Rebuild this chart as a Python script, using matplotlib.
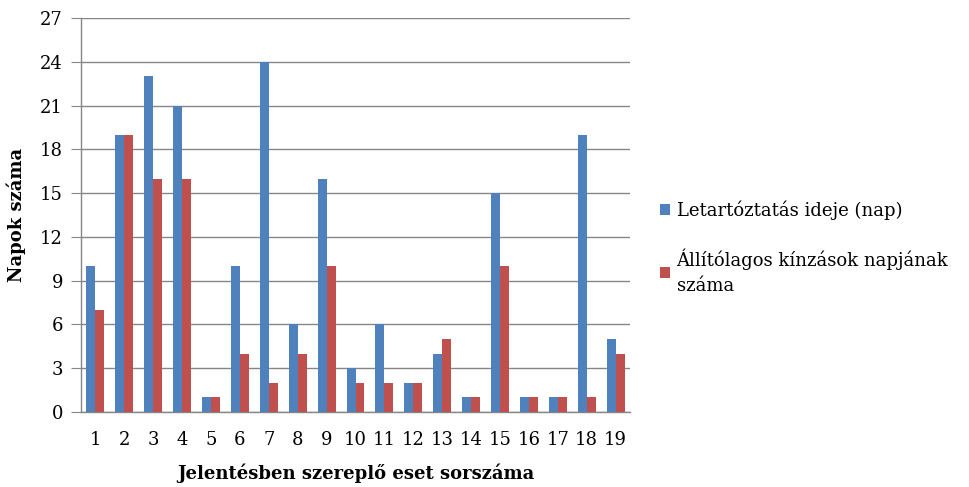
import numpy as np
import matplotlib
matplotlib.use("Agg")
import matplotlib.pyplot as plt

# data
cases = [str(i) for i in range(1, 20)]
detention_days = [10, 19, 23, 21, 1, 10, 24, 6, 16, 3, 6, 2, 4, 1, 15, 1, 1, 19, 5]
torture_days = [7, 19, 16, 16, 1, 4, 2, 4, 10, 2, 2, 2, 5, 1, 10, 1, 1, 1, 4]
series_names = ["Letartóztatás ideje (nap)", "Állítólagos kínzások napjának\nszáma"]
y_ticks = list(range(0, 28, 3))

blue = "#4F81BD"
red = "#C0504D"
grid_col = "#868686"

plt.rcParams["font.family"] = ["DejaVu Serif"]

fig = plt.figure(figsize=(9.7, 4.87), dpi=100)
ax = fig.add_axes([0.0835, 0.154, 0.566, 0.809])

x = np.arange(len(cases))
w = 0.31
b1 = ax.bar(x - w / 2, detention_days, w, color=blue, zorder=3, label=series_names[0])
b2 = ax.bar(x + w / 2, torture_days, w, color=red, zorder=3, label=series_names[1])

ax.set_xlim(-0.5, len(cases) - 0.5)
ax.set_ylim(0, 27)
ax.set_yticks(y_ticks)
ax.set_xticks(x)
ax.set_xticklabels(cases)
ax.yaxis.grid(True, color=grid_col, linewidth=1)
ax.set_axisbelow(True)

for s in ["top", "right"]:
    ax.spines[s].set_visible(False)
for s in ["left", "bottom"]:
    ax.spines[s].set_color(grid_col)
    ax.spines[s].set_linewidth(1)

ax.tick_params(axis="y", length=7, color=grid_col, labelsize=13, pad=6)
ax.tick_params(axis="x", length=0, labelsize=13, pad=14)

ax.set_ylabel("Napok száma", fontsize=13, fontweight="bold", labelpad=10)
ax.set_xlabel("Jelentésben szereplő eset sorszáma", fontsize=13, fontweight="bold", labelpad=10)

leg = fig.legend(handles=[b1, b2], labels=series_names, loc="upper left",
                 bbox_to_anchor=(0.664, 0.622), frameon=False, fontsize=13,
                 handlelength=0.55, handleheight=0.55, handletextpad=0.35, labelspacing=1.6)
for t in leg.get_texts():
    t.set_linespacing(1.5)

fig.savefig("out.png", dpi=100)
